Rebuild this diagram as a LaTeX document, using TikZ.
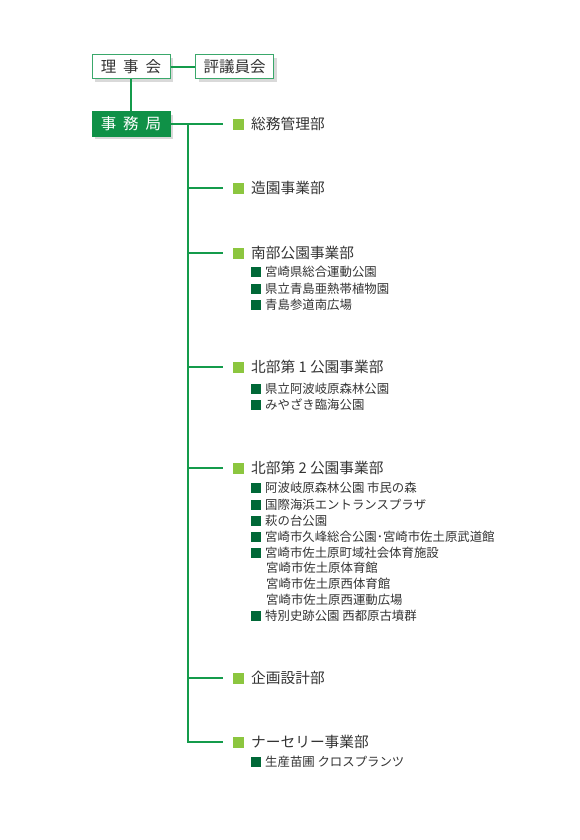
\documentclass[tikz,border=0pt]{standalone}
\usepackage{fontspec}
\setmainfont{Noto Sans CJK JP}
\usetikzlibrary{positioning,shadows}

\definecolor{linegreen}{HTML}{149B4B}
\definecolor{boxgreen}{HTML}{3AA86B}
\definecolor{headfill}{HTML}{0F9147}
\definecolor{lightsq}{HTML}{8CC63F}
\definecolor{darksq}{HTML}{006837}
\definecolor{textgray}{HTML}{333333}

\newcommand{\deptmark}{{\color{lightsq}\rule{11pt}{11pt}}\hspace{7pt}}
\newcommand{\unitmark}{{\color{darksq}\rule{9.5pt}{9.5pt}}\hspace{4.5pt}}

\begin{document}
\begin{tikzpicture}[
        x=1pt,y=-1pt,
        orgbox/.style={rectangle,draw=boxgreen,line width=1pt,fill=white,minimum width=78pt,minimum height=24pt,inner sep=0pt,font=\fontsize{15.5}{15.5}\selectfont,text=textgray,drop shadow={shadow xshift=3pt,shadow yshift=-3pt,fill=black!15,opacity=1}},
        headbox/.style={orgbox,draw=headfill,fill=headfill,text=white},
        conn/.style={draw=linegreen,line width=1.5pt},
        dept/.style={anchor=west,inner sep=0pt,font=\fontsize{14.7}{14.7}\selectfont,text=textgray},
        unit/.style={anchor=west,inner sep=0pt,font=\fontsize{12.4}{12.4}\selectfont,text=textgray},
    ]
    \useasboundingbox (0,0) rectangle (580,840);

    % === TOP: boards and secretariat ===
    \node[orgbox] (riji) at (131,67) {理\hspace{7pt}事\hspace{7pt}会};
    \node[orgbox] (hyogi) at (234.5,67) {評議員会};
    \node[headbox] (jimu) at (131,124) {事\hspace{7pt}務\hspace{7pt}局};
    \draw[conn] (riji.east) -- (hyogi.west);
    \draw[conn] (riji.south) -- (jimu.north);

    % === departments ===
    \node[dept] (d1) at (233,124) {\deptmark 総務管理部};
    \node[dept] (d2) at (233,188) {\deptmark 造園事業部};
    \node[dept] (d3) at (233,253) {\deptmark 南部公園事業部};
    \node[dept] (d4) at (233,367) {\deptmark 北部第 1 公園事業部};
    \node[dept] (d5) at (233,468) {\deptmark 北部第 2 公園事業部};
    \node[dept] (d6) at (233,678) {\deptmark 企画設計部};
    \node[dept] (d7) at (233,742) {\deptmark ナーセリー事業部};

    % === trunk and branches ===
    \coordinate (trunktop) at (188,124);
    \draw[conn] (jimu.east) -- ([xshift=-10pt]d1.west);
    \draw[conn] (trunktop) |- ([xshift=-10pt]d7.west);
    \draw[conn] (trunktop |- d2.west) -- ([xshift=-10pt]d2.west);
    \draw[conn] (trunktop |- d3.west) -- ([xshift=-10pt]d3.west);
    \draw[conn] (trunktop |- d4.west) -- ([xshift=-10pt]d4.west);
    \draw[conn] (trunktop |- d5.west) -- ([xshift=-10pt]d5.west);
    \draw[conn] (trunktop |- d6.west) -- ([xshift=-10pt]d6.west);

    % === facilities ===
    \node[unit] (s1) at (251,272) {\unitmark 宮崎県総合運動公園};
    \node[unit] (s2) at (251,289) {\unitmark 県立青島亜熱帯植物園};
    \node[unit] (s3) at (251,305) {\unitmark 青島参道南広場};

    \node[unit] (n1) at (251,389) {\unitmark 県立阿波岐原森林公園};
    \node[unit] (n2) at (251,405) {\unitmark みやざき臨海公園};

    \node[unit] (m1) at (251,488) {\unitmark 阿波岐原森林公園 市民の森};
    \node[unit] (m2) at (251,505) {\unitmark 国際海浜エントランスプラザ};
    \node[unit] (m3) at (251,521) {\unitmark 萩の台公園};
    \node[unit] (m4) at (251,537) {\unitmark 宮崎市久峰総合公園･宮崎市佐土原武道館};
    \node[unit] (m5) at (251,553) {\unitmark 宮崎市佐土原町域社会体育施設};
    \node[unit] (m5a) at (266,568) {宮崎市佐土原体育館};
    \node[unit] (m5b) at (266,584) {宮崎市佐土原西体育館};
    \node[unit] (m5c) at (266,600) {宮崎市佐土原西運動広場};
    \node[unit] (m6) at (251,616) {\unitmark 特別史跡公園 西都原古墳群};

    \node[unit] (p1) at (251,762) {\unitmark 生産苗圃 クロスプランツ};
\end{tikzpicture}
\end{document}
